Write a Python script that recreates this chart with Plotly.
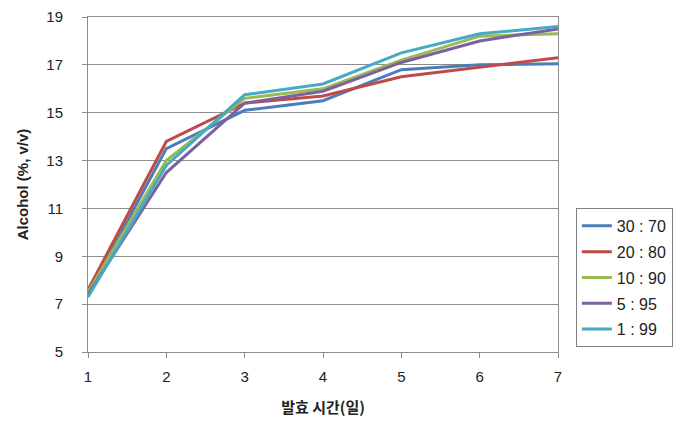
import plotly.graph_objects as go

# Fermentation days
days = [1, 2, 3, 4, 5, 6, 7]

# Alcohol content (%, v/v) for each mixing ratio
series_names = ["30 : 70", "20 : 80", "10 : 90", "5 : 95", "1 : 99"]
alc_30_70 = [7.4, 13.5, 15.1, 15.5, 16.8, 17.0, 17.05]
alc_20_80 = [7.6, 13.8, 15.4, 15.7, 16.5, 16.9, 17.3]
alc_10_90 = [7.5, 13.0, 15.6, 16.0, 17.2, 18.2, 18.3]
alc_5_95 = [7.4, 12.5, 15.4, 15.9, 17.1, 18.0, 18.5]
alc_1_99 = [7.3, 12.8, 15.75, 16.2, 17.5, 18.3, 18.6]

y_ticks = [5, 7, 9, 11, 13, 15, 17, 19]

colors = ["#4a7ebb", "#be4b48", "#98b954", "#7d60a0", "#46aac5"]
values = [alc_30_70, alc_20_80, alc_10_90, alc_5_95, alc_1_99]

fig = go.Figure()
for name, vals, col in zip(series_names, values, colors):
    fig.add_trace(go.Scatter(
        x=days, y=vals, name=name, mode="lines", legendgroup=name,
        line=dict(color=col, width=3),
    ))

tick_font = dict(family="Liberation Sans, Arial, sans-serif", size=15, color="#222222")

fig.update_layout(
    width=681, height=421,
    margin=dict(l=88, r=123, t=17, b=69, autoexpand=False),
    paper_bgcolor="white", plot_bgcolor="white",
    showlegend=True,
    legend=dict(
        x=1.038, y=0.43, xanchor="left", yanchor="top",
        bordercolor="#808080", borderwidth=1,
        font=dict(family="Liberation Sans, Arial, sans-serif", size=16, color="#222222"),
        tracegroupgap=2, itemwidth=30,
    ),
    xaxis=dict(
        range=[1, 7], tickvals=days, showgrid=False,
        showline=True, linecolor="#8c8c8c", linewidth=1, mirror=True,
        ticks="outside", ticklen=5, tickcolor="#8c8c8c",
        tickfont=tick_font, zeroline=False, ticklabelstandoff=6,
        title=dict(text="<b>발효 시간(일)</b>", standoff=18,
                   font=dict(family="Noto Sans CJK KR, sans-serif", size=15, color="#222222")),
    ),
    yaxis=dict(
        range=[5, 19], tickvals=y_ticks,
        showgrid=True, gridcolor="#8c8c8c", gridwidth=1,
        showline=True, linecolor="#8c8c8c", linewidth=1, mirror=True,
        ticks="outside", ticklen=5, tickcolor="#8c8c8c",
        tickfont=tick_font, zeroline=False, ticklabelstandoff=16,
        title=dict(text="<b>Alcohol (%, v/v)</b>", standoff=14,
                   font=dict(family="Liberation Sans, Arial, sans-serif", size=15, color="#222222")),
    ),
)

fig.write_html("out.html")
